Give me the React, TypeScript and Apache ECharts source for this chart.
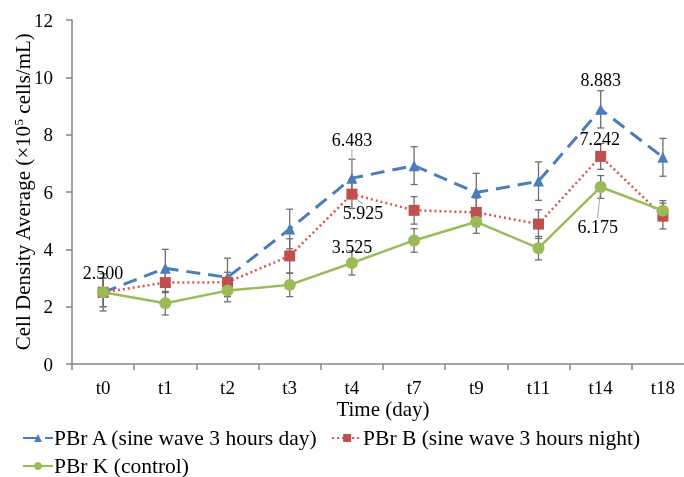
import React, { useEffect, useRef } from "react";
import * as echarts from "echarts";

const categories = ["t0", "t1", "t2", "t3", "t4", "t7", "t9", "t11", "t14", "t18"];
const seriesNames = [
  "PBr A (sine wave 3 hours day)",
  "PBr B (sine wave 3 hours night)",
  "PBr K (control)",
];
const valuesA = [2.5, 3.34, 3.02, 4.71, 6.483, 6.92, 5.98, 6.38, 8.883, 7.21];
const valuesB = [2.5, 2.84, 2.85, 3.77, 5.925, 5.36, 5.29, 4.88, 7.242, 5.16];
const valuesK = [2.5, 2.12, 2.56, 2.76, 3.525, 4.31, 4.96, 4.04, 6.175, 5.35];
const errA = [0.5, 0.66, 0.67, 0.69, 0.66, 0.66, 0.67, 0.67, 0.65, 0.66];
const errB = [0.5, 0.35, 0.35, 0.6, 0.5, 0.48, 0.5, 0.5, 0.45, 0.45];
const errK = [0.65, 0.41, 0.39, 0.41, 0.42, 0.41, 0.4, 0.41, 0.4, 0.35];
const yTicks = { min: 0, max: 12, interval: 2 };

const labelledA = [0, 4, 8];
const labelledB = [4, 8];
const labelledK = [4, 8];

const FONT = '"Liberation Serif", "Times New Roman", serif';

export default function App() {
  const ref = useRef<HTMLDivElement>(null);
  useEffect(() => {
    if (!ref.current) return;
    const chart = echarts.init(ref.current, null, { renderer: "svg" });

    const labelOffsets: Record<string, [number, number]> = {
      "0-0": [0, -19],
      "0-4": [0, -38],
      "0-8": [0, -29],
      "1-4": [11, 19],
      "1-8": [-1, -17],
      "2-4": [0, -16],
      "2-8": [-3, 40],
    };
    const leader: Record<string, boolean> = { "0-4": true, "1-4": true, "2-8": true };

    const mkData = (vals: number[], labelled: number[], si: number) =>
      vals.map((v, i) => {
        if (!labelled.includes(i)) return v;
        const key = si + "-" + i;
        return {
          value: v,
          label: {
            show: true,
            position: "inside",
            formatter: (p: any) => Number(p.value).toFixed(3),
            color: "#000",
            fontFamily: FONT,
            fontSize: 18,
          },
          labelLine: {
            show: !!leader[key],
            lineStyle: { color: "#a6a6a6", width: 1 },
          },
        };
      });

    const errSeries = (vals: number[], errs: number[], name: string) => ({
      type: "custom",
      name: name + "_err",
      silent: true,
      z: 1,
      renderItem: (params: any, api: any) => {
        const i = api.value(0);
        const v = api.value(1);
        const e = api.value(2);
        const top = api.coord([i, v + e]);
        const bot = api.coord([i, v - e]);
        const cap = 3.5;
        const style = { stroke: "#6e6e6e", lineWidth: 1.3 };
        return {
          type: "group",
          children: [
            { type: "line", shape: { x1: top[0], y1: top[1], x2: bot[0], y2: bot[1] }, style },
            { type: "line", shape: { x1: top[0] - cap, y1: top[1], x2: top[0] + cap, y2: top[1] }, style },
            { type: "line", shape: { x1: bot[0] - cap, y1: bot[1], x2: bot[0] + cap, y2: bot[1] }, style },
          ],
        };
      },
      data: vals.map((v, i) => [i, v, errs[i]]),
    });

    const mkLayout = (si: number) => (p: any) => {
      const o = labelOffsets[si + "-" + p.dataIndex];
      return o ? { dx: o[0], dy: o[1] } : {};
    };

    const legendText = { fontFamily: FONT, fontSize: 21.5, color: "#000", padding: [0, 0, 0, -4] };

    chart.setOption({
      animation: false,
      textStyle: { fontFamily: FONT },
      grid: { left: 72, top: 20, width: 622, height: 344, outerBoundsMode: "none", containLabel: false },
      legend: [
        {
          data: [seriesNames[0], seriesNames[1]],
          left: 17,
          top: 422,
          itemWidth: 30,
          itemHeight: 10,
          itemGap: 12,
          textStyle: legendText,
        },
        {
          data: [seriesNames[2]],
          left: 17,
          top: 450,
          itemWidth: 30,
          itemHeight: 10,
          textStyle: legendText,
        },
      ],
      xAxis: {
        type: "category",
        data: categories,
        boundaryGap: true,
        name: "Time (day)",
        nameLocation: "middle",
        nameGap: 34,
        nameMoveOverlap: false,
        nameTextStyle: { fontFamily: FONT, fontSize: 21, color: "#000" },
        axisLine: { lineStyle: { color: "#868686", width: 1.5 } },
        axisTick: { show: true, length: 6, lineStyle: { color: "#868686", width: 1.5 } },
        axisLabel: { fontFamily: FONT, fontSize: 19, color: "#000", margin: 14 },
      },
      yAxis: {
        type: "value",
        min: yTicks.min,
        max: yTicks.max,
        interval: yTicks.interval,
        name: "Cell Density Average (×10{sup|5} cells/mL)",
        nameLocation: "middle",
        nameGap: 39,
        nameMoveOverlap: false,
        nameTextStyle: {
          fontFamily: FONT,
          fontSize: 21,
          color: "#000",
          rich: { sup: { fontFamily: FONT, fontSize: 13, verticalAlign: "top", padding: [0, 0, 8, 0], color: "#000" } },
        },
        splitLine: { show: false },
        axisLine: { show: true, lineStyle: { color: "#868686", width: 1.5 } },
        axisTick: { show: true, length: 6, lineStyle: { color: "#868686", width: 1.5 } },
        axisLabel: { fontFamily: FONT, fontSize: 19, color: "#000", margin: 19 },
      },
      series: [
        errSeries(valuesA, errA, "A"),
        errSeries(valuesB, errB, "B"),
        errSeries(valuesK, errK, "K"),
        {
          type: "line",
          name: seriesNames[0],
          z: 3,
          data: mkData(valuesA, labelledA, 0),
          symbol: "triangle",
          symbolSize: 11,
          color: "#4a7ebb",
          lineStyle: { color: "#4a7ebb", width: 3, type: [14, 8] },
          itemStyle: { color: "#4a7ebb" },
          labelLayout: mkLayout(0),
        },
        {
          type: "line",
          name: seriesNames[1],
          z: 3,
          data: mkData(valuesB, labelledB, 1),
          symbol: "rect",
          symbolSize: 11,
          color: "#c0504d",
          lineStyle: { color: "#d9534f", width: 2.5, type: [2, 3] },
          itemStyle: { color: "#c0504d" },
          labelLayout: mkLayout(1),
        },
        {
          type: "line",
          name: seriesNames[2],
          z: 3,
          data: mkData(valuesK, labelledK, 2),
          symbol: "circle",
          symbolSize: 12,
          color: "#9bbb59",
          lineStyle: { color: "#9bbb59", width: 2.5 },
          itemStyle: { color: "#9bbb59" },
          labelLayout: mkLayout(2),
        },
      ],
    });
    return () => chart.dispose();
  }, []);
  return <div ref={ref} style={{ position: "fixed", left: 0, top: 0, width: 684, height: 477 }} />;
}
